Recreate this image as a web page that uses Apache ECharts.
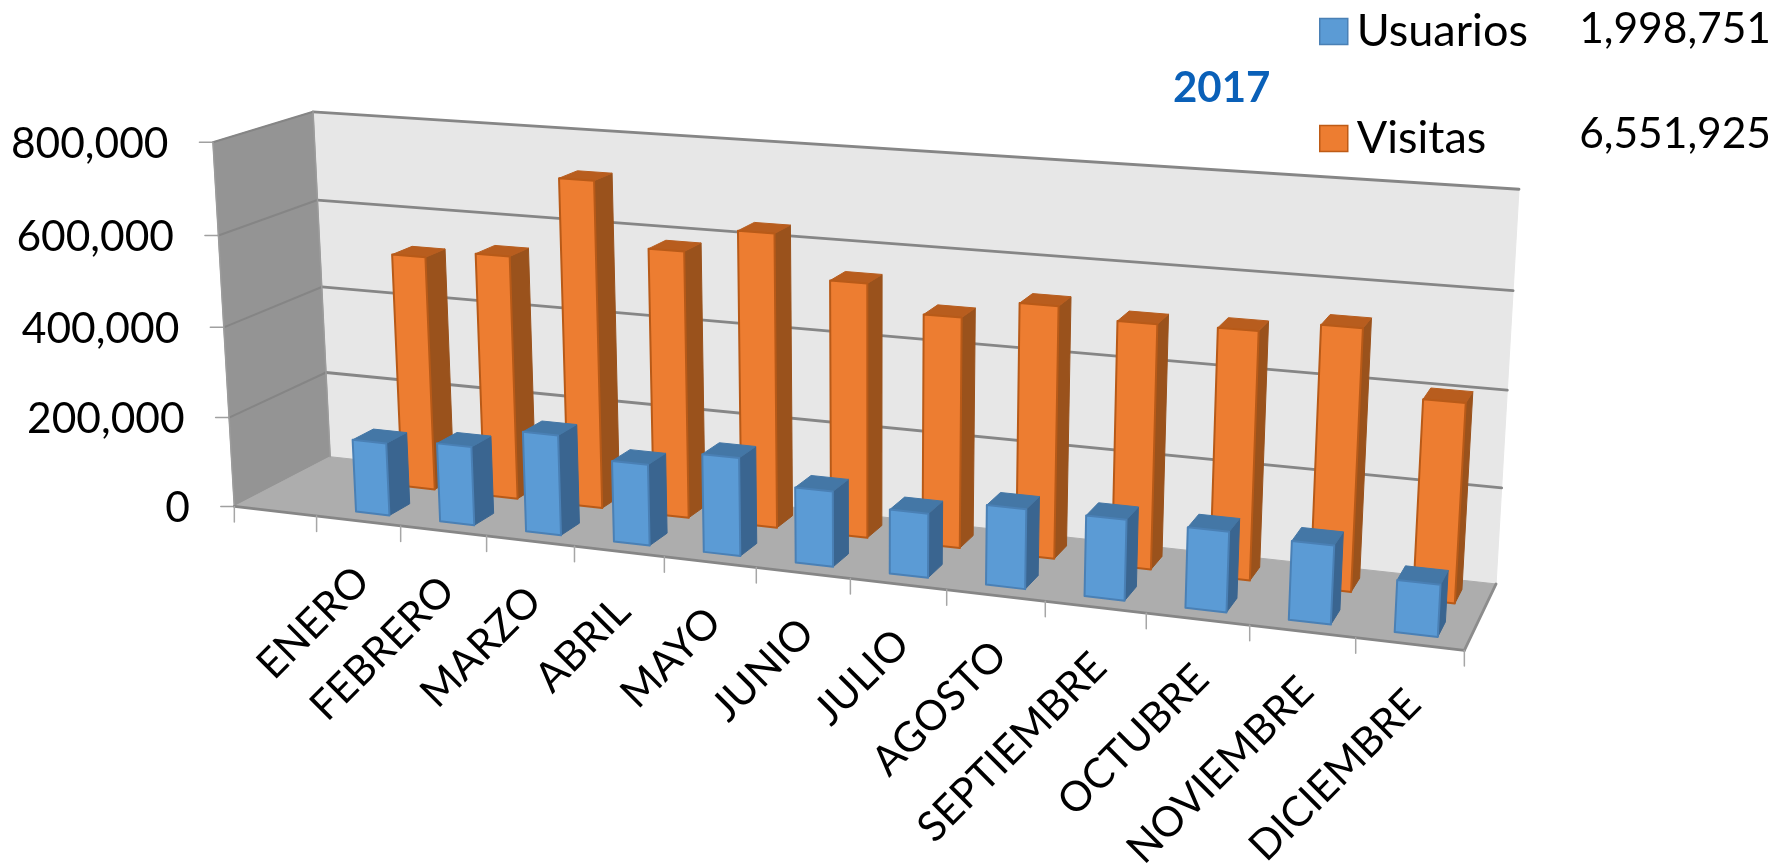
<!DOCTYPE html>
<html><head><meta charset="utf-8">
<style>html,body{margin:0;padding:0;background:#fff}#c{width:1779px;height:863px}</style>
<script src="https://cdn.jsdelivr.net/npm/echarts@6/dist/echarts.min.js"></script>
</head><body><div id="c"></div>
<script>
const categories = ['', 'ENERO','FEBRERO','MARZO','ABRIL','MAYO','JUNIO','JULIO','AGOSTO','SEPTIEMBRE','OCTUBRE','NOVIEMBRE','DICIEMBRE'];
const usuarios = [161000,173000,218000,175000,210000,160000,135000,166000,166000,164000,159000,104000];
const visitas = [525000,542000,720000,583000,636000,546000,491000,531000,511000,514000,537000,406000];
const yTicks = [0,200000,400000,600000,800000];
const legendTotals = ['1,998,751','6,551,925'];
const yearLabel = '2017';
const FONT = 'Lato, "Open Sans", sans-serif';

// Camera: where known corners of the chart box land on the page (u 0..1 along categories, d 0..1 depth, h 0..1 height)
const anchors = [
  [0,0,0,234.3,506],[0,1,0,330,457],[1,0,0,1464.3,650.7],[1,1,0,1496,584],
  [0,0,1,212.7,142.5],[0,1,1,313.3,111.7],[1,1,1,1519,189],[5/13,0,0,664.7,556.6]
];
function solveCamera(){
  const rows=[],rhs=[];
  anchors.forEach(([U,V,W,px,py])=>{
    const x=px/1000,y=py/1000;
    rows.push([U,V,W,1,0,0,0,0,-x*U,-x*V,-x*W]);rhs.push(x);
    rows.push([0,0,0,0,U,V,W,1,-y*U,-y*V,-y*W]);rhs.push(y);
  });
  const n=11,A=[];
  for(let i=0;i<n;i++){A.push(new Array(n+1).fill(0));
    for(let j=0;j<n;j++)rows.forEach(r=>A[i][j]+=r[i]*r[j]);
    rows.forEach((r,k)=>A[i][n]+=r[i]*rhs[k]);}
  for(let c=0;c<n;c++){let p=c;for(let r=c+1;r<n;r++)if(Math.abs(A[r][c])>Math.abs(A[p][c]))p=r;
    [A[c],A[p]]=[A[p],A[c]];
    for(let r=0;r<n;r++){if(r===c)continue;const f=A[r][c]/A[c][c];for(let j=c;j<=n;j++)A[r][j]-=f*A[c][j];}}
  return A.map((r,i)=>r[n]/r[i]);
}
const M=solveCamera();
function cam(U,V,W){const w=M[8]*U+M[9]*V+M[10]*W+1;
  return [1000*(M[0]*U+M[1]*V+M[2]*W+M[3])/w,1000*(M[4]*U+M[5]*V+M[6]*W+M[7])/w];}

const N=categories.length;
const BAR_HALF=0.2, BAR_SHIFT=0.012, DEPTH_HALF=0.11;
function projector(params,api){
  const cs=params.coordSys;
  return function(cat,offset,d,val){
    const p=api.coord([cat,val]);
    const U=((p[0]-cs.x)/cs.width*N+offset)/N;
    const W=(cs.y+cs.height-p[1])/cs.height;
    return cam(U,d,W);
  };
}
function poly(points,fill,stroke,lw){return {type:'polygon',shape:{points},style:{fill,stroke:stroke||fill,lineWidth:lw||1,lineJoin:'round'},silent:true};}
function line(a,b,stroke,lw){return {type:'line',shape:{x1:a[0],y1:a[1],x2:b[0],y2:b[1]},style:{stroke,lineWidth:lw,lineCap:'round'},silent:true};}

function barRenderer(depthCenter,c){
  return function(params,api){
    const P=projector(params,api),cat=api.value(0),v=api.value(1);
    const d0=depthCenter-DEPTH_HALF,d1=depthCenter+DEPTH_HALF,a=BAR_SHIFT-BAR_HALF,b=BAR_SHIFT+BAR_HALF;
    return {type:'group',children:[
      poly([P(cat,b,d0,0),P(cat,b,d1,0),P(cat,b,d1,v),P(cat,b,d0,v)],c.side,c.side,1),
      poly([P(cat,a,d0,v),P(cat,b,d0,v),P(cat,b,d1,v),P(cat,a,d1,v)],c.top,c.top,1),
      poly([P(cat,a,d0,0),P(cat,b,d0,0),P(cat,b,d0,v),P(cat,a,d0,v)],c.front,c.border,2)
    ]};
  };
}
function frameRenderer(params,api){
  const P=projector(params,api);
  const top=yTicks[yTicks.length-1],last=N-1,E=0.5,S=-0.5;
  const ch=[];
  const fl0=P(0,S,0,0),bl0=P(0,S,1,0),fr0=P(last,E,0,0),br0=P(last,E,1,0),fl1=P(0,S,0,top),bl1=P(0,S,1,top),br1=P(last,E,1,top);
  ch.push(poly([bl0,br0,br1,bl1],'#E7E7E7','#E7E7E7',1));
  ch.push(poly([fl0,bl0,bl1,fl1],'#949494','#949494',1));
  ch.push(poly([fl0,fr0,br0,bl0],'#ADADAD','#ADADAD',1));
  yTicks.forEach(t=>{
    const a=P(0,S,0,t),b=P(0,S,1,t),c=P(last,E,1,t);
    if(t>0){ch.push(line(a,b,'#858585',2));ch.push(line(b,c,'#868686',2.8));}
    ch.push(line([a[0]-13.5,a[1]],a,'#A0A0A0',1.5));
    ch.push({type:'text',x:a[0]-31-13.5,y:a[1]+2,silent:true,style:{text:t.toLocaleString('en-US'),fill:'#000',font:'42.5px '+FONT,align:'right',verticalAlign:'middle'}});
  });
  ch.push(line(fl0,fl1,'#9C9C9C',1.5));
  ch.push(line(bl0,bl1,'#9C9C9C',1.5));
  ch.push(line(fl0,fr0,'#868686',2.8));
  ch.push(line(fr0,br0,'#8C8C8C',2.8));
  for(let i=0;i<=N;i++){
    const a=i<N?P(i,S,0,0):fr0;
    ch.push(line(a,[a[0],a[1]+15.5],'#A6A6A6',1.5));
  }
  categories.forEach((name,i)=>{
    if(!name)return;
    const a=P(i,0,0,0);
    ch.push({type:'text',x:a[0]+4,y:a[1]+53,rotation:Math.PI/4,silent:true,style:{text:name,fill:'#000',font:'41.5px '+FONT,align:'right',verticalAlign:'middle'}});
  });
  return {type:'group',children:ch};
}

const chart=echarts.init(document.getElementById('c'),null,{renderer:'canvas'});
chart.setOption({
  animation:false,
  backgroundColor:'#fff',
  title:{text:yearLabel,left:1168,top:62,textStyle:{color:'#0A60B8',fontFamily:FONT,fontWeight:'bold',fontSize:42}},
  grid:{left:235,top:142,width:1230,height:364},
  xAxis:{type:'category',data:categories,show:false},
  yAxis:{type:'value',min:0,max:800000,interval:200000,show:false},
  legend:{
    left:1314,top:4,orient:'vertical',icon:'rect',itemWidth:28,itemHeight:26,itemGap:62,
    selectedMode:false,textStyle:{fontFamily:FONT,fontSize:45,color:'#000',padding:[0,0,0,4]},
    data:[{name:'Usuarios',itemStyle:{borderColor:'#4A80B5',borderWidth:1.5}},{name:'Visitas',itemStyle:{borderColor:'#BE5B16',borderWidth:1.5}}]
  },
  graphic:[
    {type:'text',right:8,top:8,style:{text:legendTotals[0],font:'42.5px '+FONT,fill:'#000'}},
    {type:'text',right:8,top:113,style:{text:legendTotals[1],font:'42.5px '+FONT,fill:'#000'}}
  ],
  series:[
    {type:'custom',name:'frame',data:[[0,0]],renderItem:frameRenderer,silent:true,z:1,encode:{x:0,y:1}},
    {type:'custom',name:'Visitas',z:2,itemStyle:{color:'#ED7D31'},silent:true,
     data:visitas.map((v,i)=>[categories[i+1],v]),encode:{x:0,y:1},
     renderItem:barRenderer(0.75,{front:'#ED7D31',border:'#B85A18',side:'#9A521C',top:'#B85D1E'})},
    {type:'custom',name:'Usuarios',z:3,itemStyle:{color:'#5B9BD5'},silent:true,
     data:usuarios.map((v,i)=>[categories[i+1],v]),encode:{x:0,y:1},
     renderItem:barRenderer(0.25,{front:'#5B9BD5',border:'#4A80B5',side:'#3A6590',top:'#4477A6'})}
  ]
});
</script></body></html>
